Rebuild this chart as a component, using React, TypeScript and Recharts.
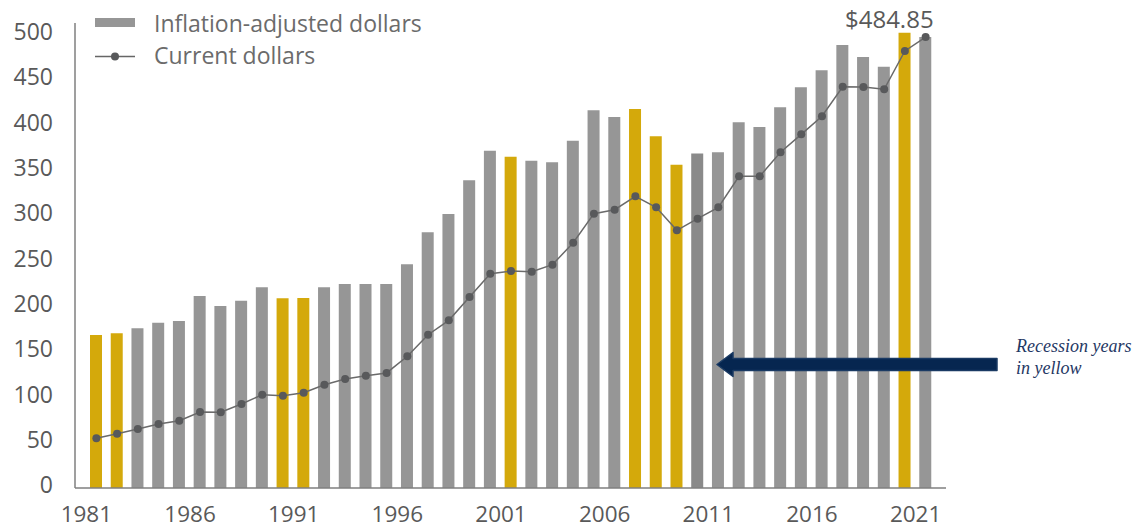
import { Bar, Line, XAxis, YAxis, Cell, LabelList, ComposedChart } from "recharts";

const years = [
  1981, 1982, 1983, 1984, 1985, 1986, 1987, 1988, 1989, 1990,
  1991, 1992, 1993, 1994, 1995, 1996, 1997, 1998, 1999, 2000,
  2001, 2002, 2003, 2004, 2005, 2006, 2007, 2008, 2009, 2010,
  2011, 2012, 2013, 2014, 2015, 2016, 2017, 2018, 2019, 2020, 2021,
];

// inflation-adjusted (bars)
const adjusted = [
  164.5, 166.3, 171.7, 177.7, 179.6, 206.5, 195.7, 201.4, 215.8, 204.0,
  204.3, 215.8, 219.4, 219.4, 219.4, 240.5, 275.0, 294.6, 330.9, 362.7,
  356.2, 351.9, 350.2, 373.4, 406.1, 398.9, 407.5, 378.2, 347.6, 359.7,
  361.0, 393.2, 388.2, 409.4, 430.9, 449.1, 476.3, 463.4, 453.0, 489.6, 484.85,
];

// current dollars (line)
const current = [
  53.4, 58.4, 63.4, 68.8, 72.4, 81.7, 81.4, 90.3, 100.3, 99.3,
  102.5, 111.1, 117.2, 120.8, 123.7, 141.6, 164.8, 180.3, 205.4, 230.4,
  233.3, 232.6, 240.1, 263.8, 295.0, 299.2, 313.6, 301.8, 277.1, 289.6,
  301.8, 335.2, 335.2, 361.0, 380.3, 399.7, 431.5, 431.2, 428.7, 469.9, 484.85,
];

const recessionYears = [1981, 1982, 1990, 1991, 2001, 2007, 2008, 2009, 2020];
const yTicks = [0, 50, 100, 150, 200, 250, 300, 350, 400, 450, 500];

const GRAY = "#969696";
const YELLOW = "#D4A90B";
const TEXT = "#595959";
const FONT = "'Open Sans', sans-serif";

const data = years.map((year, i) => ({
  year,
  adjusted: adjusted[i],
  current: current[i],
}));

function YTick({ x, y, payload }: any) {
  return (
    <text x={x} y={y} dy="0.36em" textAnchor="end" fill={TEXT} fontSize={23} fontFamily={FONT}>
      {payload.value}
    </text>
  );
}

function XTick({ x, y, payload }: any) {
  return (
    <text x={x - 10} y={y} dy={34} textAnchor="middle" fill={TEXT} fontSize={22.5} fontFamily={FONT}>
      {payload.value}
    </text>
  );
}

function LastLabel(props: any) {
  const { x, y, index, value } = props;
  if (index !== years.length - 1) return null;
  return (
    <text x={x + 8} y={y - 9} textAnchor="end" fill={TEXT} fontSize={24} fontFamily={FONT}>
      ${value.toFixed(2)}
    </text>
  );
}

function Overlay() {
  return (
    <svg
      width={1136}
      height={528}
      style={{ position: "absolute", left: 0, top: 0, pointerEvents: "none" }}
    >
      {/* legend */}
      <rect x={95} y={18} width={40} height={9} fill={GRAY} />
      <text x={154} y={31.5} fill="#6b6b6b" fontSize={23} fontFamily={FONT}>
        Inflation-adjusted dollars
      </text>
      <line x1={95} y1={56.5} x2={135} y2={56.5} stroke="#666" strokeWidth={1.5} />
      <circle cx={115} cy={56.5} r={4} fill="#58595b" />
      <text x={154} y={63.5} fill="#6b6b6b" fontSize={23} fontFamily={FONT}>
        Current dollars
      </text>

      {/* annotation arrow */}
      <path
        d="M717,364.5 L733,352.5 L733,358.5 L997,358.5 L997,370.5 L733,370.5 L733,376.5 Z"
        fill="#062650"
        stroke="#1a3a63"
        strokeWidth={1.5}
        strokeLinejoin="round"
      />
      <text
        x={1016}
        y={352}
        fill="#1f3864"
        fontSize={18}
        fontStyle="italic"
        fontFamily="'Liberation Serif', serif"
      >
        Recession years
      </text>
      <text
        x={1016}
        y={374}
        fill="#1f3864"
        fontSize={18}
        fontStyle="italic"
        fontFamily="'Liberation Serif', serif"
      >
        in yellow
      </text>
    </svg>
  );
}

export default function App() {
  return (
    <div style={{ position: "absolute", left: 0, top: 0, width: 1136, height: 528, background: "#fff" }}>
      <ComposedChart
        width={1136}
        height={528}
        data={data}
        margin={{ top: 23, right: 190, bottom: 0, left: 0 }}
        barCategoryGap={0}
      >
        <XAxis
          dataKey="year"
          interval={4}
          tickSize={0}
          tickMargin={0}
          height={40}
          padding={{ left: 11, right: 10 }}
          axisLine={{ stroke: "#7f7f7f", strokeWidth: 1.5 }}
          tick={<XTick />}
        />
        <YAxis
          yAxisId="labels"
          type="number"
          domain={[-3.3, 509.6]}
          allowDataOverflow
          ticks={yTicks}
          width={75}
          tickSize={0}
          tickMargin={22}
          tickLine={false}
          axisLine={{ stroke: "#7f7f7f", strokeWidth: 1.5 }}
          tick={<YTick />}
        />
        <YAxis yAxisId="data" domain={[0, 500]} hide width={0} allowDataOverflow />
        <Bar yAxisId="data" dataKey="adjusted" barSize={12} isAnimationActive={false}>
          {data.map((d) => (
            <Cell
              key={d.year}
              fill={recessionYears.includes(d.year) ? YELLOW : d.year === 2010 ? "#8a8a8a" : GRAY}
            />
          ))}
        </Bar>
        <Line
          yAxisId="data"
          dataKey="current"
          stroke="#6a6a6a"
          strokeWidth={1.5}
          dot={{ r: 4, fill: "#58595b", stroke: "none" }}
          activeDot={false}
          isAnimationActive={false}
        >
          <LabelList dataKey="current" content={<LastLabel />} />
        </Line>
      </ComposedChart>
      <Overlay />
    </div>
  );
}
